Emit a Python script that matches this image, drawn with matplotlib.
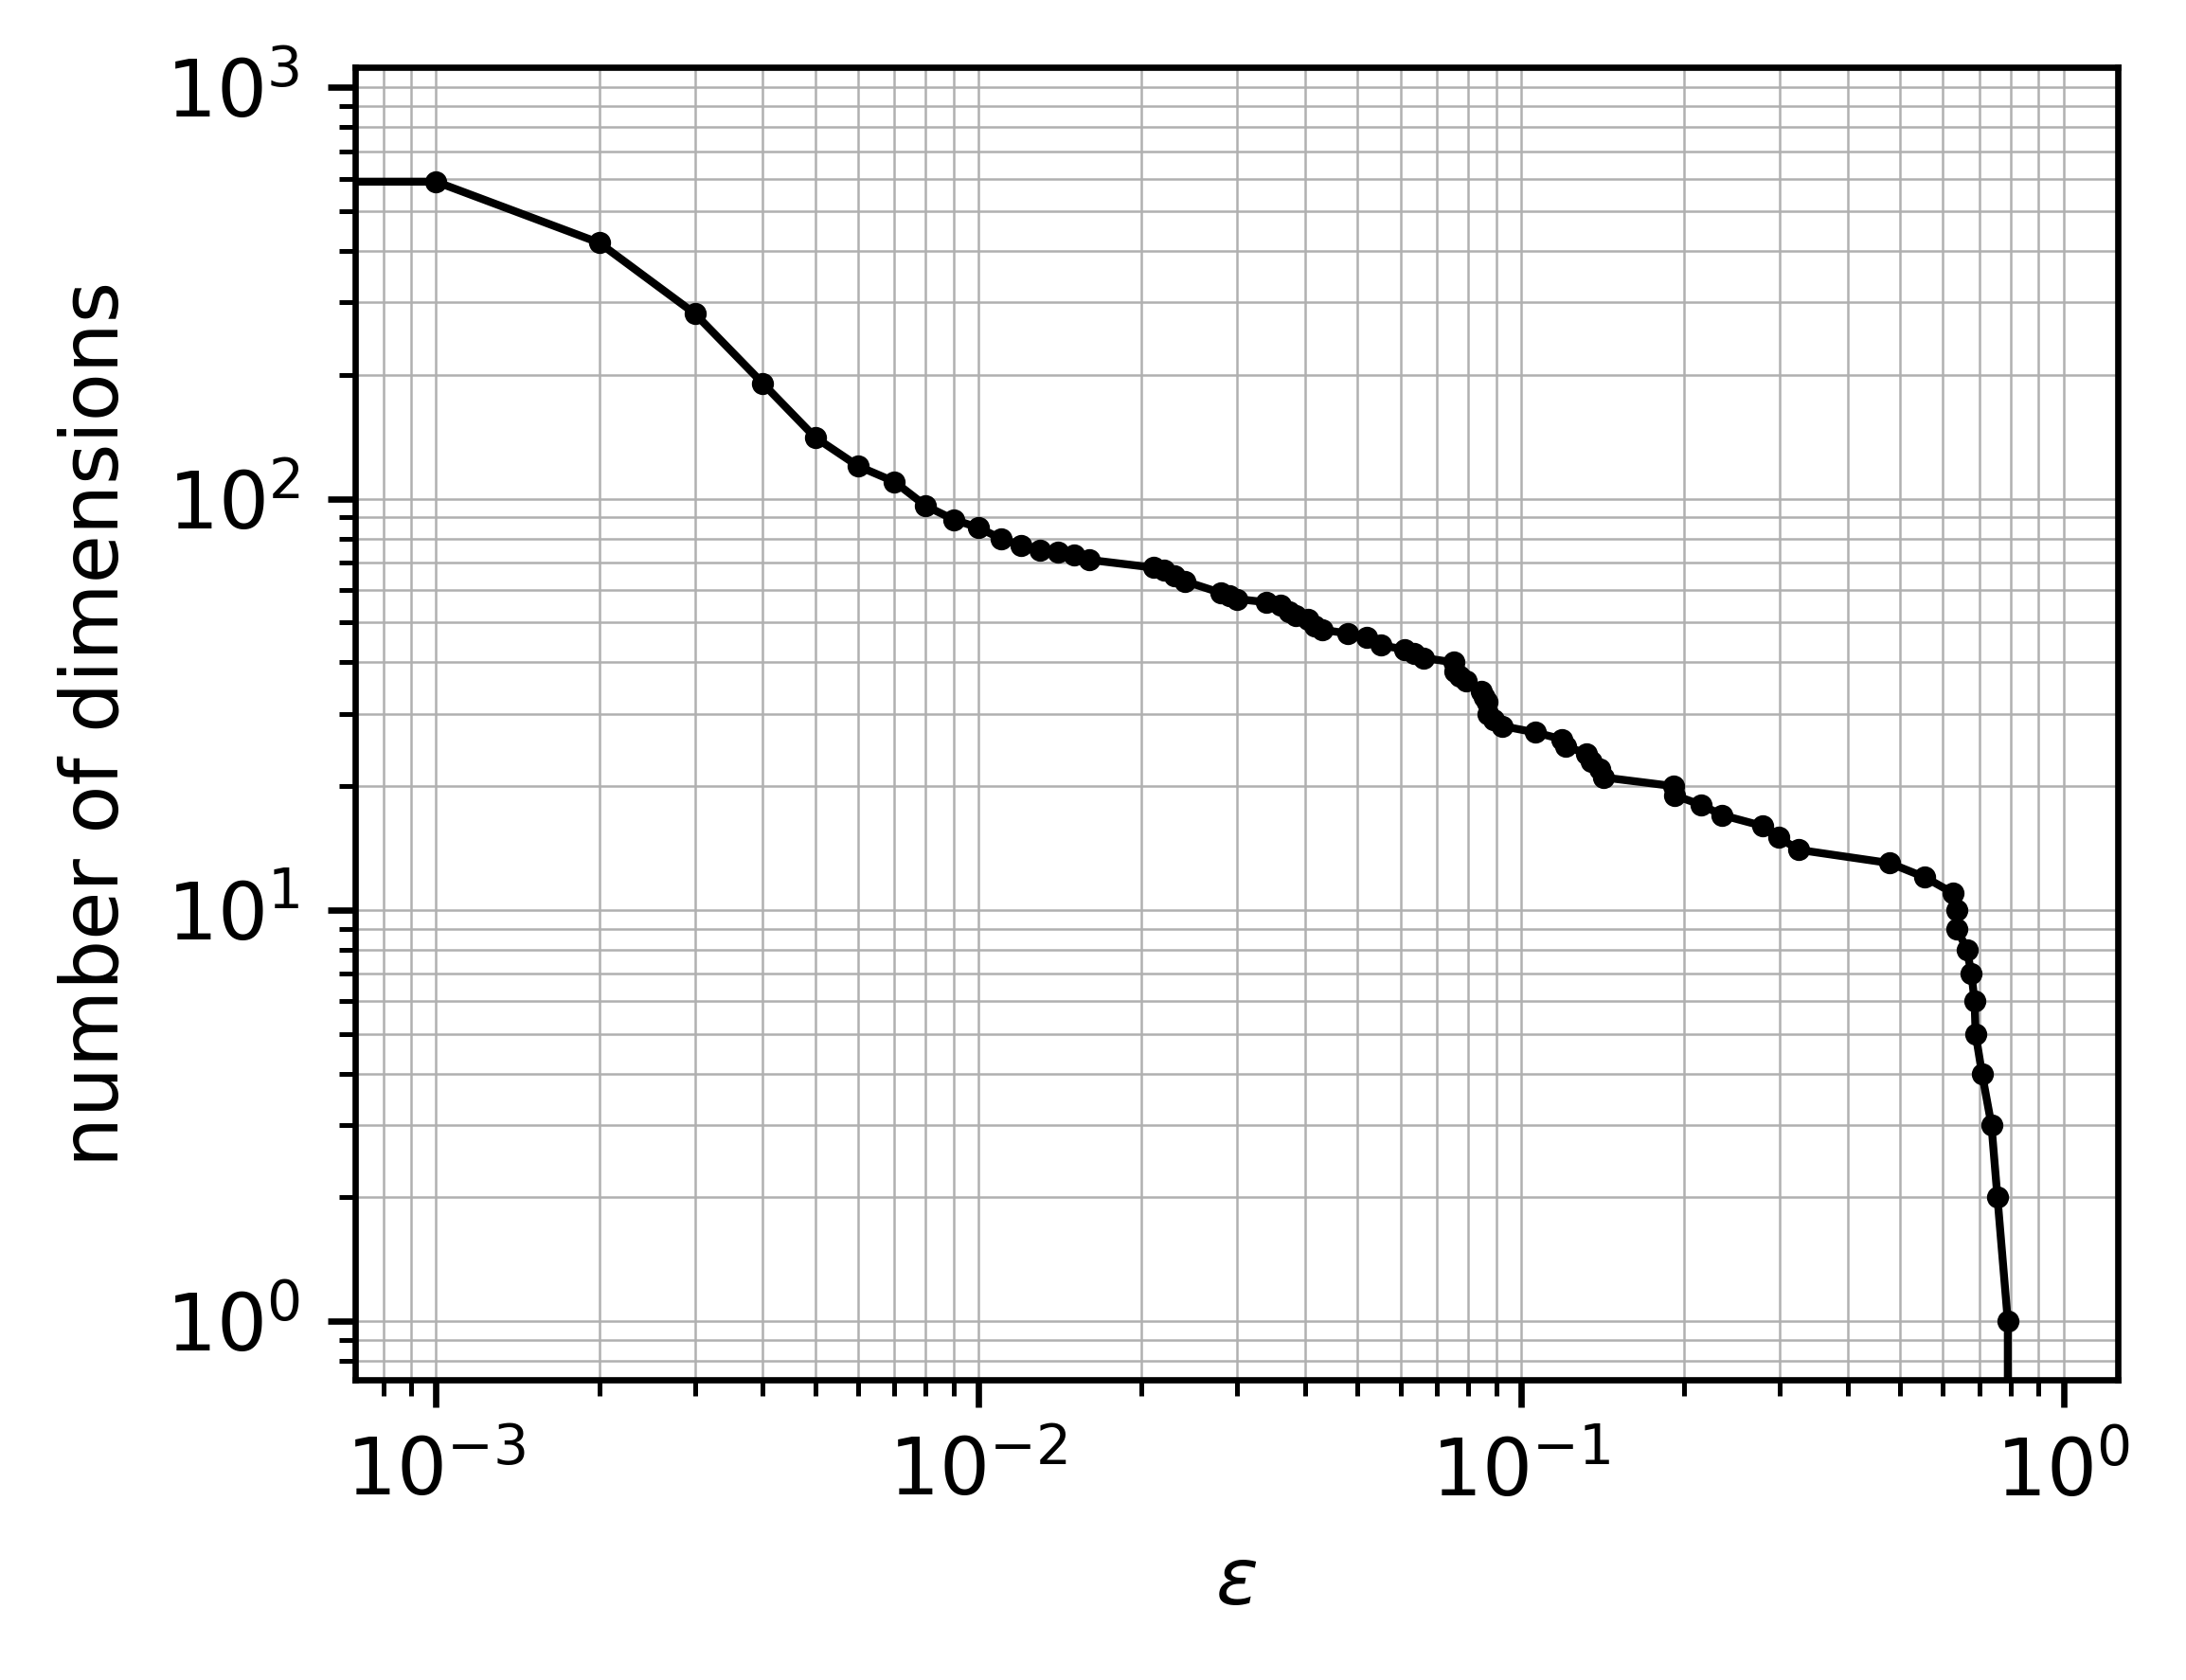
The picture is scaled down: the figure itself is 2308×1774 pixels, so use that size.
import matplotlib
matplotlib.use("Agg")
import matplotlib.pyplot as plt

# epsilon values and the number of dimensions kept at each one
# (first point at eps=0 and last at dims=0 run off the log axes)
eps = [0.0, 0.001, 0.002, 0.003, 0.004, 0.005, 0.006, 0.007, 0.008, 0.009,
       0.010, 0.011, 0.012, 0.013, 0.014, 0.015, 0.016,
       0.021, 0.022, 0.023, 0.024, 0.028, 0.029, 0.030, 0.034, 0.036,
       0.0374, 0.0384, 0.0405, 0.0417, 0.0431, 0.048, 0.052, 0.0552,
       0.061, 0.0635, 0.0662, 0.0751, 0.0756, 0.0771, 0.0792, 0.0845,
       0.0857, 0.0866, 0.0871, 0.0892, 0.0923, 0.1065, 0.119, 0.121,
       0.132, 0.135, 0.140, 0.142, 0.191, 0.192, 0.215, 0.235, 0.279,
       0.299, 0.325, 0.478, 0.556, 0.625, 0.636, 0.637, 0.664, 0.677,
       0.686, 0.689, 0.708, 0.737, 0.756, 0.790, 0.790]
dims = [590, 590, 419, 282, 191, 141, 120, 110, 96, 89,
        85, 80, 77, 75, 74, 73, 71,
        68, 67, 65, 63, 59, 58, 57, 56, 55,
        53, 52, 51, 49, 48, 47, 46, 44,
        43, 42, 41, 40, 38, 37, 36, 34,
        33, 32, 30, 29, 28, 27, 26, 25,
        24, 23, 22, 21, 20, 19, 18, 17, 16,
        15, 14, 13, 12, 11, 10, 9, 8, 7,
        6, 5, 4, 3, 2, 1, 0]

fig = plt.figure(figsize=(2308 / 600, 1774 / 600), dpi=600)
ax = fig.add_axes([0.1625, 0.1787, 0.8063, 0.7813])

ax.set_xscale("log")
ax.set_yscale("log")
ax.plot(eps, dims, "o-", color="k", lw=1.0, ms=1.8)

ax.set_xlim(7.1e-4, 1.26)
ax.set_ylim(0.72, 1.12e3)
ax.grid(True, which="both", color="#b0b0b0", lw=0.3)
ax.set_axisbelow(True)

ax.set_xlabel(r"$\varepsilon$")
ax.set_ylabel("number of dimensions")

fig.savefig("out.png", dpi=600)
